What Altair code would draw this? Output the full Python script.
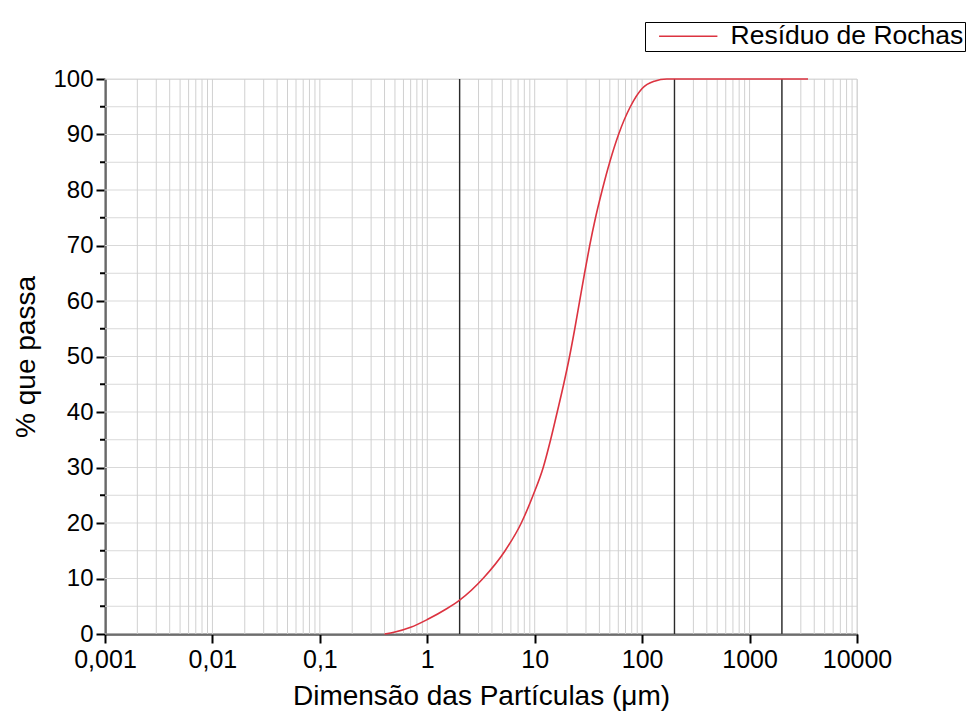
import altair as alt
import pandas as pd

# ---- data ----
sizes = [0.4, 0.5, 0.7, 1, 1.5, 2, 3.3, 5.3, 7.5, 9.66, 12, 14.06, 16.2, 18.6, 21.1,
         23.6, 26.2, 29.1, 32.5, 36.8, 42.5, 49.9, 60.3, 77.6, 100, 130, 170, 3500]
passing = [0, 0.35, 1.2, 2.6, 4.5, 6.1, 10, 15, 20, 25, 30, 35, 40, 45, 50,
           55, 60, 65, 70, 75, 80, 85, 90, 95, 98.3, 99.6, 100, 100]
series_name = "Resíduo de Rochas"
x_major = [0.001, 0.01, 0.1, 1, 10, 100, 1000, 10000]
y_major = [0, 10, 20, 30, 40, 50, 60, 70, 80, 90, 100]
y_minor = [5, 15, 25, 35, 45, 55, 65, 75, 85, 95]
ref_lines = [2, 200, 2000]

x_grid = [m * d for d in x_major[:-1] for m in range(1, 10)] + [x_major[-1]]
y_grid = sorted(y_major + y_minor)

W, H = 752, 555
FONT = "Liberation Sans"

df = pd.DataFrame({"d": sizes, "p": passing, "s": [series_name] * len(sizes)})
xscale = alt.Scale(type="log", domain=[0.001, 10000], nice=False)
yscale = alt.Scale(domain=[0, 100], nice=False, zero=False)

X_AX = alt.Axis(values=x_major, title="Dimensão das Partículas (μm)",
                labelExpr="replace(toString(datum.value), '.', ',')",
                grid=False, tickSize=9, tickWidth=2, tickColor="black",
                domainColor="black", domainWidth=2,
                labelFontSize=25, labelPadding=4, labelColor="black",
                labelFont=FONT, titleFont=FONT, titleFontSize=28,
                titleFontWeight="normal", titleColor="black",
                titlePadding=10, labelFlush=False)
Y_AX = alt.Axis(values=y_major, title="% que passa", grid=False,
                tickSize=9, tickWidth=2, tickColor="black",
                domainColor="black", domainWidth=2,
                labelFontSize=24, labelPadding=3, labelColor="black",
                labelFont=FONT, titleFont=FONT, titleFontSize=28,
                titleFontWeight="normal", titleColor="black",
                titlePadding=12)

hgrid = alt.Chart(pd.DataFrame({"p": y_grid})).mark_rule(
    color="#d9d9d9", strokeWidth=1
).encode(
    y=alt.Y("p:Q", scale=yscale, axis=Y_AX),
    x=alt.value(0), x2=alt.value(W),
)

vgrid = alt.Chart(pd.DataFrame({"d": x_grid})).mark_rule(
    color="#d0d0d0", strokeWidth=1
).encode(
    x=alt.X("d:Q", scale=xscale, axis=X_AX),
    y=alt.value(0), y2=alt.value(H),
)

refs = alt.Chart(pd.DataFrame({"d": ref_lines})).mark_rule(
    color="#2a2a2a", strokeWidth=1.4
).encode(
    x=alt.X("d:Q", scale=xscale, axis=X_AX),
    y=alt.value(0), y2=alt.value(H),
)

yminor = alt.Chart(pd.DataFrame({"p": y_minor})).mark_rule(
    color="black", strokeWidth=2
).encode(
    y=alt.Y("p:Q", scale=yscale, axis=Y_AX),
    x=alt.value(-5), x2=alt.value(0),
)

curve = alt.Chart(df).mark_line(strokeWidth=1.6, interpolate="monotone").encode(
    x=alt.X("d:Q", scale=xscale, axis=X_AX),
    y=alt.Y("p:Q", scale=yscale, axis=Y_AX),
    color=alt.Color("s:N", scale=alt.Scale(range=["#dc3340"]),
                    legend=alt.Legend(title=None, orient="none", legendX=540, legendY=-57,
                                      symbolType="M-3,0H3", symbolSize=378,
                                      symbolOffset=29,
                                      symbolStrokeWidth=1.6, labelFont=FONT,
                                      labelFontSize=26.5, labelColor="black",
                                      labelOffset=29, labelLimit=400,
                                      strokeColor="black",
                                      fillColor="white", padding=1,
                                      cornerRadius=0)),
)

chart = alt.layer(hgrid, vgrid, refs, curve, yminor).properties(
    width=W, height=H,
    autosize=alt.AutoSizeParams(type="none"),
    padding={"left": 105, "top": 79, "right": 111, "bottom": 90},
).configure_view(stroke=None).configure(background="white")

chart.save("out.html", embed_options={"renderer": "svg", "actions": False})
